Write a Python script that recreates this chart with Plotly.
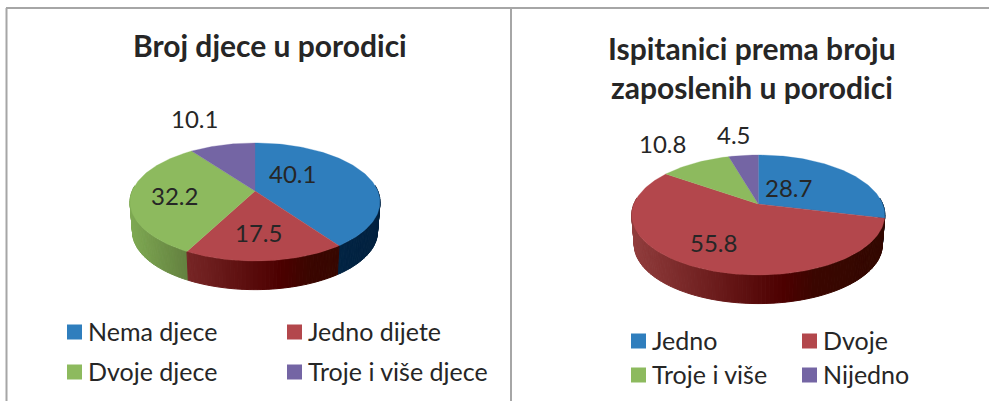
import math
import plotly.graph_objects as go

# ---- data ----
left_title = "<b>Broj djece u porodici</b>"
left_categories = ["Nema djece", "Jedno dijete", "Dvoje djece", "Troje i više djece"]
left_values = [40.1, 17.5, 32.2, 10.1]

right_title = "<b>Ispitanici prema broju<br>zaposlenih u porodici</b>"
right_categories = ["Jedno", "Dvoje", "Troje i više", "Nijedno"]
right_values = [28.7, 55.8, 10.8, 4.5]

# ---- style ----
FONT = "Lato"
TEXT = "#262626"
COLORS = ["#2f7ebd", "#b3474c", "#8dba5e", "#7465a4"]
# wall shading: (t across pie width, rgb)
WALL = [
    [(0.0, (3, 50, 90)), (1.0, (2, 33, 63))],
    [(0.0, (146, 62, 62)), (0.6, (76, 0, 0)), (0.72, (58, 6, 0)), (1.0, (50, 8, 0))],
    [(0.0, (127, 170, 83)), (0.25, (97, 125, 62)), (1.0, (80, 105, 50))],
    [(0.0, (90, 78, 130)), (1.0, (60, 50, 90))],
]
DEPTH = 30
SHRINK = 0.98


def lerp_color(stops, t):
    t = max(0.0, min(1.0, t))
    for (t0, c0), (t1, c1) in zip(stops, stops[1:]):
        if t <= t1:
            f = (t - t0) / (t1 - t0)
            return "rgb(%d,%d,%d)" % tuple(round(a + (b - a) * f) for a, b in zip(c0, c1))
    return "rgb(%d,%d,%d)" % stops[-1][1]


class Pie:
    def __init__(self, cx, cy, a, b, k):
        self.cx, self.cy, self.a, self.b, self.k = cx, cy, a, b, k

    def top(self, deg, r=1.0):
        th = math.radians(deg)
        u, v = r * math.sin(th), -r * math.cos(th)
        s = 1 / (1 - self.k * v)
        return self.cx + self.a * u * s, self.cy + self.b * v * s

    def bottom(self, deg):
        x, y = self.top(deg)
        return self.cx + SHRINK * (x - self.cx), self.cy + SHRINK * (y - self.cy) + DEPTH


def draw_pie(fig, pie, values):
    total = sum(values)
    left = pie.top(270)[0] - 3
    width = 2 * (pie.cx - left)
    bounds = [0.0]
    for val in values:
        bounds.append(bounds[-1] + 360 * val / total)
    # side wall: thin strips painted back to front
    strips = []
    for i in range(len(values)):
        start, end = bounds[i], bounds[i + 1]
        n = max(1, int((end - start) / 1.5))
        for j in range(n):
            d0 = start + (end - start) * j / n
            d1 = start + (end - start) * (j + 1) / n
            strips.append((i, d0, d1))
    strips.sort(key=lambda item: -math.cos(math.radians((item[1] + item[2]) / 2)))
    for i, d0, d1 in strips:
        mid = (d0 + d1) / 2
        if math.cos(math.radians(mid)) > 0.1:
            continue
        p = [pie.top(d0), pie.top(d1), pie.bottom(d1), pie.bottom(d0), pie.top(d0)]
        t = (pie.top(mid)[0] - left) / width
        color = lerp_color(WALL[i], t)
        fig.add_trace(go.Scatter(
            x=[q[0] for q in p], y=[q[1] for q in p], mode="lines", fill="toself",
            fillcolor=color, line=dict(color=color, width=1.0),
            hoverinfo="skip", showlegend=False))
    # top face
    for i in range(len(values)):
        start, end = bounds[i], bounds[i + 1]
        n = max(2, int((end - start) / 1.5))
        pts = [pie.top(start + (end - start) * j / n) for j in range(n + 1)]
        pts = [(pie.cx, pie.cy)] + pts + [(pie.cx, pie.cy)]
        fig.add_trace(go.Scatter(
            x=[q[0] for q in pts], y=[q[1] for q in pts], mode="lines", fill="toself",
            fillcolor=COLORS[i], line=dict(color=COLORS[i], width=0.3),
            hoverinfo="skip", showlegend=False))
    return bounds


def add_labels(fig, pie, values, bounds, radii, shifts):
    for i, val in enumerate(values):
        x, y = pie.top((bounds[i] + bounds[i + 1]) / 2, radii[i])
        fig.add_annotation(x=x, y=y, xref="x", yref="y", text="%.1f" % val, showarrow=False,
                           xshift=shifts[i][0], yshift=-shifts[i][1],
                           font=dict(family=FONT, size=24, color=TEXT))


def add_legend(fig, cats, xs, ys, size):
    for i, cat in enumerate(cats):
        fig.add_trace(go.Scatter(
            x=[xs[i % 2]], y=[ys[i // 2]], mode="markers",
            marker=dict(symbol="square", size=15, color=COLORS[i], line=dict(width=0)),
            hoverinfo="skip", showlegend=False, cliponaxis=False))
        fig.add_annotation(x=xs[i % 2], y=ys[i // 2], xref="x", yref="y", text=cat,
                           showarrow=False, xanchor="left", xshift=11, yshift=1,
                           font=dict(family=FONT, size=size, color=TEXT))


fig = go.Figure()

left_pie = Pie(255, 191, 122.8, 57, 0.186)
right_pie = Pie(758.3, 204, 124.4, 58, 0.183)

lb = draw_pie(fig, left_pie, left_values)
rb = draw_pie(fig, right_pie, right_values)

add_labels(fig, left_pie, left_values, lb, [0.6, 0.6, 0.6, 1.2],
           [(-30, -7), (-2, 3), (-6, 2), (-23, -19)])
add_labels(fig, right_pie, right_values, rb, [0.6, 0.6, 1.2, 1.2],
           [(-25, 4), (-11, 3), (-22, -13), (-7, -13)])

add_legend(fig, left_categories, [74.5, 294.5], [332, 372], 25)
add_legend(fig, right_categories, [638.5, 809.5], [341, 375], 25)

fig.add_annotation(x=270, y=45, xref="x", yref="y", text=left_title, showarrow=False,
                   font=dict(family=FONT, size=30, color=TEXT))
fig.add_annotation(x=752, y=67, xref="x", yref="y", text=right_title, showarrow=False,
                   font=dict(family=FONT, size=30, color=TEXT))

frame = dict(color="#a6a6a6", width=2)
fig.add_shape(type="line", x0=6.5, x1=6.5, y0=8, y1=401, xref="x", yref="y", line=frame)
fig.add_shape(type="line", x0=6, x1=989, y0=8, y1=8, xref="x", yref="y", line=frame)
fig.add_shape(type="line", x0=511, x1=511, y0=8, y1=401, xref="x", yref="y", line=frame)

fig.update_layout(
    width=989, height=401, margin=dict(l=0, r=0, t=0, b=0),
    paper_bgcolor="white", plot_bgcolor="white", showlegend=False,
    xaxis=dict(range=[0, 989], visible=False, fixedrange=True),
    yaxis=dict(range=[401, 0], visible=False, fixedrange=True),
)
fig.write_html("out.html", config=dict(displayModeBar=False),
               post_script="document.body.style.margin='0';document.documentElement.style.overflow='hidden';")
